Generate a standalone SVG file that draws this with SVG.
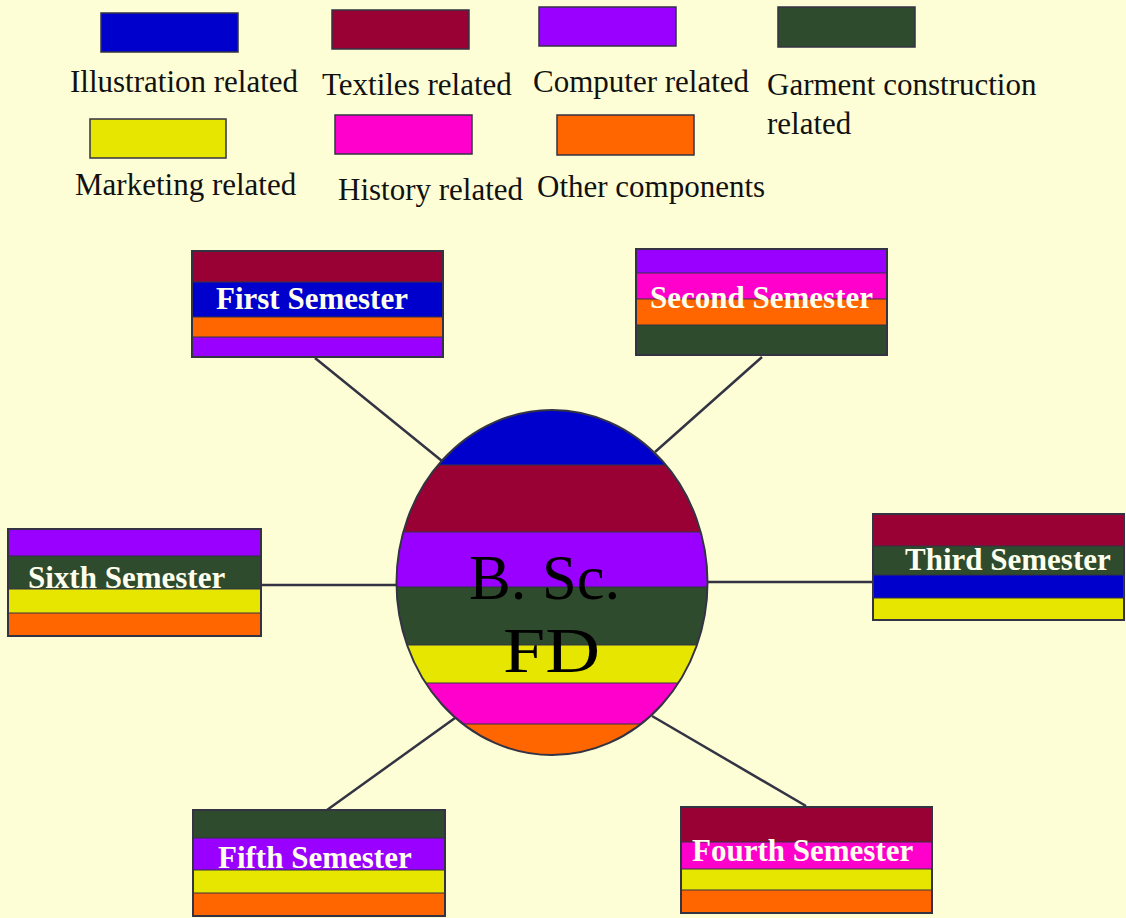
<svg xmlns="http://www.w3.org/2000/svg" width="1126" height="918" viewBox="0 0 1126 918">
<style>
.bg{fill:#FEFED6}
.blue{fill:#0000CC}.mar{fill:#990033}.pur{fill:#9900FF}.grn{fill:#2F4B2D}.yel{fill:#E6E600}.pnk{fill:#FF00CC}.org{fill:#FF6600}
.out{fill:none;stroke:#333344;stroke-width:2}
.sep{stroke:#333344;stroke-width:1.2}
.leg{font-family:"Liberation Serif","Times New Roman",serif;font-size:31px;fill:#111111}
.lab{font-family:"Liberation Serif","Times New Roman",serif;font-size:31px;font-weight:bold;fill:#FFFFEE}
.con{stroke:#333344;stroke-width:2.5;fill:none}
.ctr{font-family:"Liberation Serif","Times New Roman",serif;font-size:64px;fill:#000000}
</style>
<defs>
<clipPath id="ec"><ellipse cx="552" cy="582.5" rx="155.5" ry="172.5"/></clipPath>
</defs>
<rect class="bg" x="0" y="0" width="1126" height="918"/>

<g id="legend">
<rect class="blue" x="101" y="13" width="137" height="39" stroke="#333344" stroke-width="1.5"/>
<rect class="mar" x="332" y="10" width="137" height="39" stroke="#333344" stroke-width="1.5"/>
<rect class="pur" x="539" y="7" width="137" height="39" stroke="#333344" stroke-width="1.5"/>
<rect class="grn" x="778" y="7" width="137" height="40" stroke="#333344" stroke-width="1.5"/>
<rect class="yel" x="90" y="119" width="136" height="39" stroke="#333344" stroke-width="1.5"/>
<rect class="pnk" x="335" y="115" width="137" height="39" stroke="#333344" stroke-width="1.5"/>
<rect class="org" x="557" y="115" width="137" height="40" stroke="#333344" stroke-width="1.5"/>
<text class="leg" x="70" y="92">Illustration related</text>
<text class="leg" x="322" y="95">Textiles related</text>
<text class="leg" x="533" y="92">Computer related</text>
<text class="leg" x="767" y="95">Garment construction</text>
<text class="leg" x="767" y="134">related</text>
<text class="leg" x="75" y="195">Marketing related</text>
<text class="leg" x="338" y="200">History related</text>
<text class="leg" x="537" y="197">Other components</text>
</g>

<g id="connectors">
<line class="con" x1="315" y1="358" x2="442" y2="461"/>
<line class="con" x1="762" y1="357" x2="655" y2="452"/>
<line class="con" x1="262" y1="585" x2="397" y2="585"/>
<line class="con" x1="708" y1="582" x2="872" y2="582"/>
<line class="con" x1="327" y1="810" x2="455" y2="718"/>
<line class="con" x1="652" y1="716" x2="806" y2="806"/>
</g>

<g id="center">
<g clip-path="url(#ec)">
<rect class="blue" x="396" y="410" width="312" height="55"/>
<rect class="mar" x="396" y="465" width="312" height="67"/>
<rect class="pur" x="396" y="532" width="312" height="55"/>
<rect class="grn" x="396" y="587" width="312" height="58"/>
<rect class="yel" x="396" y="645" width="312" height="38"/>
<rect class="pnk" x="396" y="683" width="312" height="41"/>
<rect class="org" x="396" y="724" width="312" height="32"/>
<line class="sep" x1="396" y1="465" x2="708" y2="465"/>
<line class="sep" x1="396" y1="532" x2="708" y2="532"/>
<line class="sep" x1="396" y1="587" x2="708" y2="587"/>
<line class="sep" x1="396" y1="645" x2="708" y2="645"/>
<line class="sep" x1="396" y1="683" x2="708" y2="683"/>
<line class="sep" x1="396" y1="724" x2="708" y2="724"/>
</g>
<ellipse class="out" cx="552" cy="582.5" rx="155.5" ry="172.5"/>
<text class="ctr" x="469" y="599" textLength="151" lengthAdjust="spacingAndGlyphs">B. Sc.</text>
<text class="ctr" x="503" y="672" textLength="97" lengthAdjust="spacingAndGlyphs">FD</text>
</g>

<g id="first">
<rect class="mar" x="192" y="251" width="251" height="31"/>
<rect class="blue" x="192" y="282" width="251" height="35"/>
<rect class="org" x="192" y="317" width="251" height="20"/>
<rect class="pur" x="192" y="337" width="251" height="20"/>
<line class="sep" x1="192" y1="282" x2="443" y2="282"/><line class="sep" x1="192" y1="317" x2="443" y2="317"/><line class="sep" x1="192" y1="337" x2="443" y2="337"/>
<rect class="out" x="192" y="251" width="251" height="106"/>
<text class="lab" x="216" y="309">First Semester</text>
</g>

<g id="second">
<rect class="pur" x="636" y="249" width="251" height="24"/>
<rect class="pnk" x="636" y="273" width="251" height="26"/>
<rect class="org" x="636" y="299" width="251" height="26"/>
<rect class="grn" x="636" y="325" width="251" height="30"/>
<line class="sep" x1="636" y1="273" x2="887" y2="273"/><line class="sep" x1="636" y1="299" x2="887" y2="299"/><line class="sep" x1="636" y1="325" x2="887" y2="325"/>
<rect class="out" x="636" y="249" width="251" height="106"/>
<text class="lab" x="650" y="308">Second Semester</text>
</g>

<g id="third">
<rect class="mar" x="873" y="514" width="251" height="32"/>
<rect class="grn" x="873" y="546" width="251" height="29"/>
<rect class="blue" x="873" y="575" width="251" height="23"/>
<rect class="yel" x="873" y="598" width="251" height="22"/>
<line class="sep" x1="873" y1="546" x2="1124" y2="546"/><line class="sep" x1="873" y1="575" x2="1124" y2="575"/><line class="sep" x1="873" y1="598" x2="1124" y2="598"/>
<rect class="out" x="873" y="514" width="251" height="106"/>
<text class="lab" x="905" y="570">Third Semester</text>
</g>

<g id="sixth">
<rect class="pur" x="8" y="529" width="253" height="27"/>
<rect class="grn" x="8" y="556" width="253" height="33"/>
<rect class="yel" x="8" y="589" width="253" height="24"/>
<rect class="org" x="8" y="613" width="253" height="23"/>
<line class="sep" x1="8" y1="556" x2="261" y2="556"/><line class="sep" x1="8" y1="589" x2="261" y2="589"/><line class="sep" x1="8" y1="613" x2="261" y2="613"/>
<rect class="out" x="8" y="529" width="253" height="107"/>
<text class="lab" x="28" y="588">Sixth Semester</text>
</g>

<g id="fifth">
<rect class="grn" x="193" y="810" width="252" height="28"/>
<rect class="pur" x="193" y="838" width="252" height="32"/>
<rect class="yel" x="193" y="870" width="252" height="23"/>
<rect class="org" x="193" y="893" width="252" height="23"/>
<line class="sep" x1="193" y1="838" x2="445" y2="838"/><line class="sep" x1="193" y1="870" x2="445" y2="870"/><line class="sep" x1="193" y1="893" x2="445" y2="893"/>
<rect class="out" x="193" y="810" width="252" height="106"/>
<text class="lab" x="218" y="868">Fifth Semester</text>
</g>

<g id="fourth">
<rect class="mar" x="681" y="807" width="251" height="35"/>
<rect class="pnk" x="681" y="842" width="251" height="27"/>
<rect class="yel" x="681" y="869" width="251" height="21"/>
<rect class="org" x="681" y="890" width="251" height="23"/>
<line class="sep" x1="681" y1="842" x2="932" y2="842"/><line class="sep" x1="681" y1="869" x2="932" y2="869"/><line class="sep" x1="681" y1="890" x2="932" y2="890"/>
<rect class="out" x="681" y="807" width="251" height="106"/>
<text class="lab" x="692" y="861">Fourth Semester</text>
</g>
</svg>
